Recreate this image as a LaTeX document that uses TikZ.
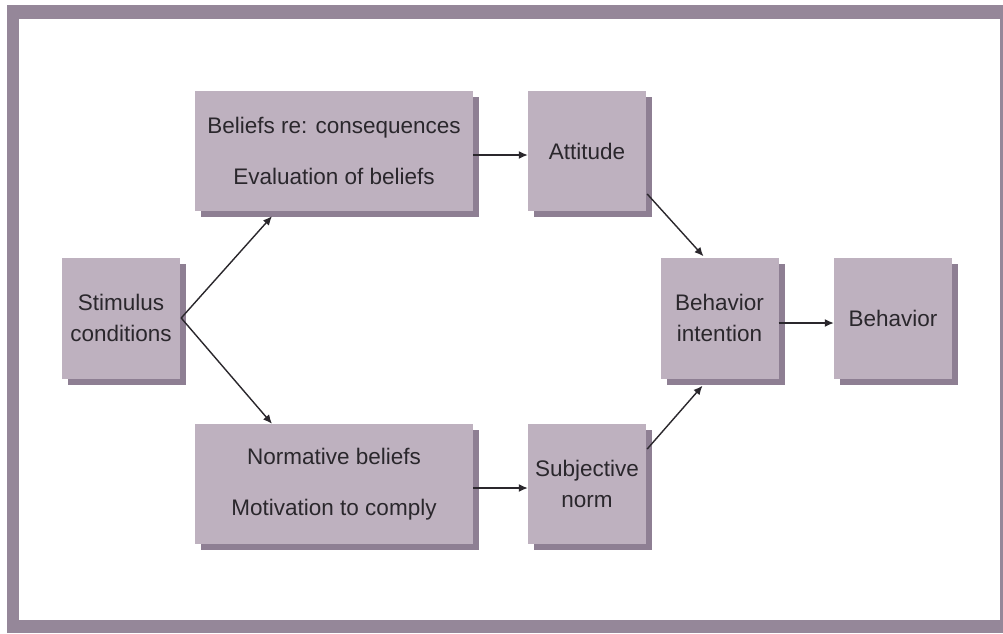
\documentclass[tikz,border=0pt]{standalone}
\usepackage{fontspec}
\setmainfont{Liberation Sans}
\usetikzlibrary{shadows,arrows.meta}
\definecolor{framecol}{HTML}{958799}
\definecolor{boxfill}{HTML}{BEB1BF}
\definecolor{boxshadow}{HTML}{8E7F93}
\definecolor{inkcol}{HTML}{2A272C}
\begin{document}
\begin{tikzpicture}[x=1pt,y=-1pt,
  stagebox/.style={fill=boxfill, draw=none, minimum width=118pt, minimum height=121pt,
    inner sep=0pt, align=center, text=inkcol, font=\fontsize{22.5}{31}\selectfont,
    general shadow={fill=boxshadow, shadow xshift=6pt, shadow yshift=-6pt}},
  widebox/.style={stagebox, minimum width=278pt, minimum height=120pt},
  arr/.style={draw=inkcol, line width=1.4pt, -{Latex[length=9pt,width=8pt]}}]
\useasboundingbox (0,0) rectangle (1003,633);
% outer frame
\fill[framecol] (7,5) rectangle (1003,633);
\fill[white] (19,19) rectangle (1000,620);

% boxes
\node[stagebox] (stim) at (121,318) {Stimulus\\conditions};
\node[widebox] (bel) at (334,151) {Beliefs re: consequences\\[20pt]Evaluation of beliefs};
\node[widebox] (norm) at (334,484) {Normative beliefs\\[20pt]Motivation to comply};
\node[stagebox, minimum height=120pt] (att) at (587,151) {Attitude};
\node[stagebox, minimum height=120pt] (subj) at (587,484) {Subjective\\norm};
\node[stagebox] (bi) at (719.5,318) {Behavior\\intention};
\node[stagebox] (beh) at (893,318) {Behavior};

% connectors
\draw[arr] ([xshift=1pt]stim.east) -- ([xshift=-62pt,yshift=-5pt]bel.south);
\draw[arr] ([xshift=1pt]stim.east) -- ([xshift=-62pt]norm.north);
\draw[arr] ([yshift=-4pt]bel.east) -- ([yshift=-4pt]att.west);
\draw[arr] ([yshift=-4pt]norm.east) -- ([yshift=-4pt]subj.west);
\draw[arr] ([xshift=1pt,yshift=-43pt]att.east) -- ([xshift=-16pt,yshift=1pt]bi.north);
\draw[arr] ([xshift=1pt,yshift=35pt]subj.east) -- ([xshift=-17pt,yshift=-7pt]bi.south);
\draw[arr] ([yshift=-5pt]bi.east) -- ([yshift=-5pt]beh.west);
\end{tikzpicture}
\end{document}
